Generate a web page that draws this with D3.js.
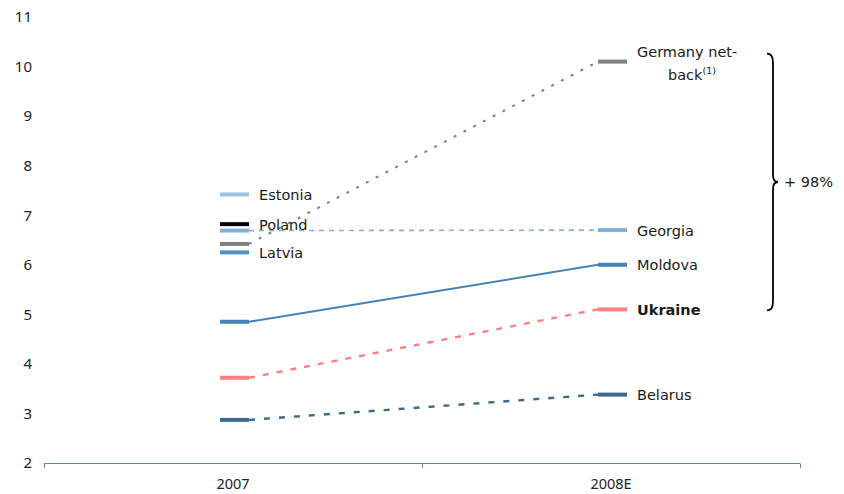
<!DOCTYPE html>
<html>
<head>
<meta charset="utf-8">
<script src="https://cdn.jsdelivr.net/npm/d3@7"></script>
<style>
  html, body { margin: 0; padding: 0; background: #ffffff; }
  svg { display: block; }
</style>
</head>
<body>
<svg id="chart" width="844" height="494"></svg>
<script>
// ---- data ----
const categories = ["2007", "2008E"];
const seriesNames = ["Estonia", "Poland", "Georgia", "Germany net-back", "Latvia", "Moldova", "Ukraine", "Belarus"];
const values2007 = [7.42, 6.82, 6.69, 6.42, 6.25, 4.85, 3.72, 2.87];
const values2008 = [null, null, 6.7, 10.1, null, 6.0, 5.1, 3.38];
const yTickValues = [2, 3, 4, 5, 6, 7, 8, 9, 10, 11];
const bracePercentLabel = "+ 98%";

// ---- styles ----
const colors = ["#9ec4e0", "#000000", "#7eb1d6", "#808080", "#4d93c4", "#4682b4", "#ff8080", "#3b6a8e"];
const dashes = [null, null, "5,5", "3,8", null, null, "6,8", "6,9"];
const lineWidths = [2, 2, 1.6, 2, 2, 2, 2.4, 2.4];
const labelAt2007 = [true, true, false, false, true, false, false, false];
const boldLabel = [false, false, false, false, false, false, true, false];

const svg = d3.select("#chart");
const margin = { left: 44, right: 800, top: 17, bottom: 463 };

const x = d3.scaleBand().domain(categories).range([margin.left, margin.right]).padding(0);
const y = d3.scaleLinear().domain([2, 11]).range([margin.bottom, margin.top]);

const labelFont = "'DejaVu Sans', Verdana, sans-serif";
const tickFont = "'Noto Sans', 'Open Sans', sans-serif";

// y axis labels (no line)
const yAxis = d3.axisLeft(y).tickValues(yTickValues).tickSize(0).tickPadding(0).tickFormat(d3.format("d"));
const yg = svg.append("g").attr("transform", "translate(32,0)").call(yAxis);
yg.select(".domain").remove();
yg.selectAll("text").attr("font-family", tickFont).attr("font-size", 15).attr("fill", "#222");

// x axis
const xAxisLineColor = "#5b87b5";
const xg = svg.append("g").attr("transform", `translate(0,${margin.bottom})`);
xg.append("line").attr("x1", margin.left).attr("x2", margin.right).attr("y1", 0.5).attr("y2", 0.5)
  .attr("stroke", xAxisLineColor).attr("stroke-width", 1);
const boundaries = [margin.left].concat(categories.map(c => x(c) + x.bandwidth()));
xg.selectAll("line.tk").data(boundaries).enter().append("line")
  .attr("class", "tk")
  .attr("x1", d => Math.round(d) + 0.5).attr("x2", d => Math.round(d) + 0.5)
  .attr("y1", 0.5).attr("y2", 5)
  .attr("stroke", xAxisLineColor).attr("stroke-width", 1);
xg.selectAll("text.cat").data(categories).enter().append("text")
  .attr("class", "cat")
  .attr("x", d => x(d) + x.bandwidth() / 2)
  .attr("y", 26)
  .attr("text-anchor", "middle")
  .attr("font-family", tickFont).attr("font-size", 14.5).attr("fill", "#222")
  .text(d => d);

// marker geometry
const mHalf = 14.5, mOff = 1.5;
const cx = c => x(c) + x.bandwidth() / 2 + mOff;

const rows = seriesNames.map((name, i) => ({
  name, i, v0: values2007[i], v1: values2008[i], color: colors[i], dash: dashes[i], w: lineWidths[i]
}));

// connecting lines
const lineGen = d3.line().x(d => d[0]).y(d => d[1]);
const gLines = svg.append("g");
rows.filter(r => r.v0 != null && r.v1 != null).forEach(r => {
  gLines.append("path")
    .attr("d", lineGen([[cx(categories[0]) + mHalf, y(r.v0)], [cx(categories[1]) - mHalf, y(r.v1)]]))
    .attr("fill", "none")
    .attr("stroke", r.color)
    .attr("stroke-width", r.w)
    .attr("stroke-dasharray", r.dash);
});

// markers
const gM = svg.append("g");
rows.forEach(r => {
  [[categories[0], r.v0], [categories[1], r.v1]].forEach(([c, v]) => {
    if (v == null) return;
    gM.append("line")
      .attr("x1", cx(c) - mHalf).attr("x2", cx(c) + mHalf)
      .attr("y1", y(v)).attr("y2", y(v))
      .attr("stroke", r.color).attr("stroke-width", 4);
  });
});

// labels
const gL = svg.append("g").attr("font-family", labelFont).attr("font-size", 14.5).attr("fill", "#1a1a1a");
rows.forEach(r => {
  if (r.name === "Germany net-back") {
    const t = gL.append("text").attr("x", cx(categories[1]) + mHalf + 10).attr("y", y(r.v1) - 5);
    t.append("tspan").text("Germany net-");
    const t2 = gL.append("text").attr("x", cx(categories[1]) + mHalf + 41).attr("y", y(r.v1) + 18);
    t2.append("tspan").text("back");
    t2.append("tspan").attr("font-size", 9.5).attr("dy", -6).text("(1)");
    return;
  }
  const at2007 = labelAt2007[r.i];
  const c = at2007 ? categories[0] : categories[1];
  const v = at2007 ? r.v0 : r.v1;
  gL.append("text")
    .attr("x", cx(c) + mHalf + 10)
    .attr("y", y(v))
    .attr("dy", "0.38em")
    .attr("font-weight", boldLabel[r.i] ? "bold" : "normal")
    .text(r.name);
});

// brace spanning Ukraine (2008E) to Germany (2008E)
const braceTop = y(values2008[3]) - 8;
const braceBot = y(values2008[6]) + 1;
const braceMid = (braceTop + braceBot) / 2;
const bx = 773, tip = 778, bend = 767;
const braceP = d3.path();
braceP.moveTo(bend, braceTop);
braceP.quadraticCurveTo(bx, braceTop, bx, braceTop + 9);
braceP.lineTo(bx, braceMid - 7);
braceP.quadraticCurveTo(bx, braceMid, tip, braceMid);
braceP.quadraticCurveTo(bx, braceMid, bx, braceMid + 7);
braceP.lineTo(bx, braceBot - 9);
braceP.quadraticCurveTo(bx, braceBot, bend, braceBot);
svg.append("path").attr("d", braceP.toString()).attr("fill", "none")
  .attr("stroke", "#000").attr("stroke-width", 1.8);
svg.append("text").attr("x", 784).attr("y", braceMid).attr("dy", "0.36em")
  .attr("font-family", labelFont).attr("font-size", 14.5).attr("fill", "#1a1a1a")
  .attr("xml:space", "preserve").style("white-space", "pre")
  .text(bracePercentLabel);
</script>
</body>
</html>
